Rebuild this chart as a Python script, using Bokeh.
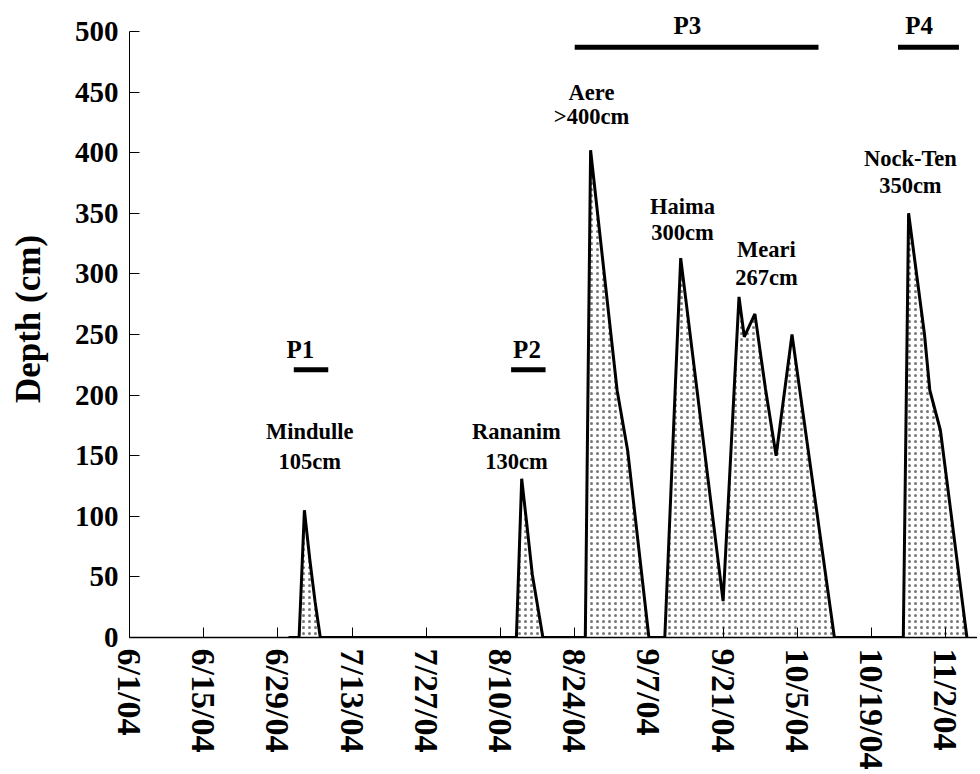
from datetime import datetime
import pandas as pd
from bokeh.plotting import figure
from bokeh.models import (ColumnDataSource, FixedTicker, CustomJSTickFormatter,
                          Range1d, LabelSet)
from bokeh.embed import file_html
from bokeh.resources import INLINE

# ---- data -------------------------------------------------------------
dates = ["2004-07-01", "2004-07-03", "2004-07-04", "2004-07-05", "2004-07-06", "2004-07-07",
         "2004-08-13", "2004-08-14", "2004-08-15", "2004-08-16", "2004-08-17", "2004-08-18",
         "2004-08-26", "2004-08-27", "2004-09-01", "2004-09-03", "2004-09-07",
         "2004-09-10", "2004-09-13", "2004-09-21", "2004-09-24", "2004-09-25", "2004-09-27",
         "2004-09-29", "2004-10-01", "2004-10-04", "2004-10-12",
         "2004-10-25", "2004-10-26", "2004-10-29", "2004-10-30", "2004-11-01", "2004-11-06"]
depth = [0, 0, 105, 65, 30, 0,
         0, 131, 92, 52, 26, 0,
         0, 402, 204, 154, 0,
         0, 313, 30, 281, 248, 267,
         205, 150, 250, 0,
         0, 350, 250, 204, 171, 0]

tick_dates = ["2004-06-01", "2004-06-15", "2004-06-29", "2004-07-13", "2004-07-27", "2004-08-10",
              "2004-08-24", "2004-09-07", "2004-09-21", "2004-10-05", "2004-10-19", "2004-11-02"]
y_ticks = [0, 50, 100, 150, 200, 250, 300, 350, 400, 450, 500]

typhoon_names = ["Mindulle", "Rananim", "Aere", "Haima", "Meari", "Nock-Ten"]
typhoon_depths = ["105cm", "130cm", ">400cm", "300cm", "267cm", "350cm"]

periods = ["P1", "P2", "P3", "P4"]
period_start = ["2004-07-02 00:00", "2004-08-12 00:00", "2004-08-24 00:00", "2004-10-24 00:00"]
period_end = ["2004-07-08 12:00", "2004-08-18 12:00", "2004-10-09 00:00", "2004-11-04 12:00"]
period_level = [221, 221, 487, 487]

# annotation anchor positions (date, value)
name_x = ["2004-07-05 00:00", "2004-08-13 00:00", "2004-08-27 04:00", "2004-09-13 08:00",
          "2004-09-29 04:00", "2004-10-26 08:00"]
name_y = [170, 170, 450, 356, 320, 395]
val_y = [145, 145, 430, 334, 297, 373]
period_label_x = ["2004-07-03 06:00", "2004-08-15 00:00", "2004-09-14 06:00", "2004-10-28 00:00"]
period_label_y = [238, 238, 505, 505]


def to_dt(lst):
    return pd.to_datetime(lst, format="mixed")


# ---- figure -----------------------------------------------------------
FONT = "Liberation Serif"
src = ColumnDataSource(dict(x=to_dt(dates), y=depth))

FRAME_H = 637
Y_TOP = 500 * FRAME_H / 606.0   # frame extends a little above the 500 tick

p = figure(x_axis_type="datetime", frame_width=848, frame_height=FRAME_H,
           min_border_left=129, min_border_top=0, min_border_right=0,
           min_border_bottom=135, output_backend="svg", toolbar_location=None,
           x_range=Range1d(datetime(2004, 6, 1), datetime(2004, 11, 8)),
           y_range=Range1d(0, Y_TOP))
p.outline_line_color = None
p.grid.visible = False
p.background_fill_color = "white"
p.border_fill_color = "white"

p.varea(x="x", y1=0, y2="y", source=src, fill_color="white",
        hatch_pattern="dot", hatch_color="#777777", hatch_scale=6,
        hatch_weight=1.2)
p.line(x="x", y="y", source=src, line_color="black", line_width=3)

# period bars
ps = to_dt(period_start)
pe = to_dt(period_end)
for s, e, lv in zip(ps, pe, period_level):
    p.line(x=[s, e], y=[lv, lv], line_color="black", line_width=5)

lab_src = ColumnDataSource(dict(x=to_dt(name_x), y1=name_y, y2=val_y,
                                n=typhoon_names, d=typhoon_depths))
for col, yc in (("n", "y1"), ("d", "y2")):
    ls = LabelSet(x="x", y=yc, text=col, source=lab_src, text_align="center",
                  text_baseline="middle", text_font=FONT, text_font_style="bold",
                  text_font_size="22.5px", text_color="black")
    p.add_layout(ls)

per_src = ColumnDataSource(dict(x=to_dt(period_label_x), y=period_label_y, t=periods))
p.add_layout(LabelSet(x="x", y="y", text="t", source=per_src, text_align="center",
                      text_baseline="middle", text_font=FONT, text_font_style="bold",
                      text_font_size="25px", text_color="black"))

# axes
tick_ms = [pd.Timestamp(d).value // 10**6 for d in tick_dates]
xa = p.xaxis[0]
xa.ticker = FixedTicker(ticks=tick_ms)
xa.formatter = CustomJSTickFormatter(code="""
const d = new Date(tick);
return (d.getUTCMonth()+1) + '/' + d.getUTCDate() + '/' + String(d.getUTCFullYear()).slice(2);
""")
xa.major_label_orientation = "vertical"
xa.major_tick_in = 10
xa.major_tick_out = 0
xa.minor_tick_line_color = None
xa.axis_line_width = 1.5
xa.axis_line_color = "black"
xa.major_tick_line_color = "black"
xa.major_label_text_font = FONT
xa.major_label_text_font_style = "bold"
xa.major_label_text_font_size = "34px"
xa.major_label_text_color = "black"
xa.major_label_standoff = 11

ya = p.yaxis[0]
ya.ticker = FixedTicker(ticks=y_ticks)
ya.bounds = (0, 500)
ya.major_tick_in = 10
ya.major_tick_out = 0
ya.minor_tick_line_color = None
ya.axis_line_color = "black"
ya.major_tick_line_color = "black"
ya.major_label_text_font = FONT
ya.major_label_text_font_style = "bold"
ya.major_label_text_font_size = "29px"
ya.major_label_text_color = "black"
ya.major_label_standoff = 11
ya.axis_label = "Depth (cm)"
ya.axis_label_text_font = FONT
ya.axis_label_text_font_style = "bold"
ya.axis_label_text_font_size = "35px"
ya.axis_label_text_color = "black"
ya.axis_label_standoff = 24

open("out.html", "w").write(file_html(p, INLINE))
